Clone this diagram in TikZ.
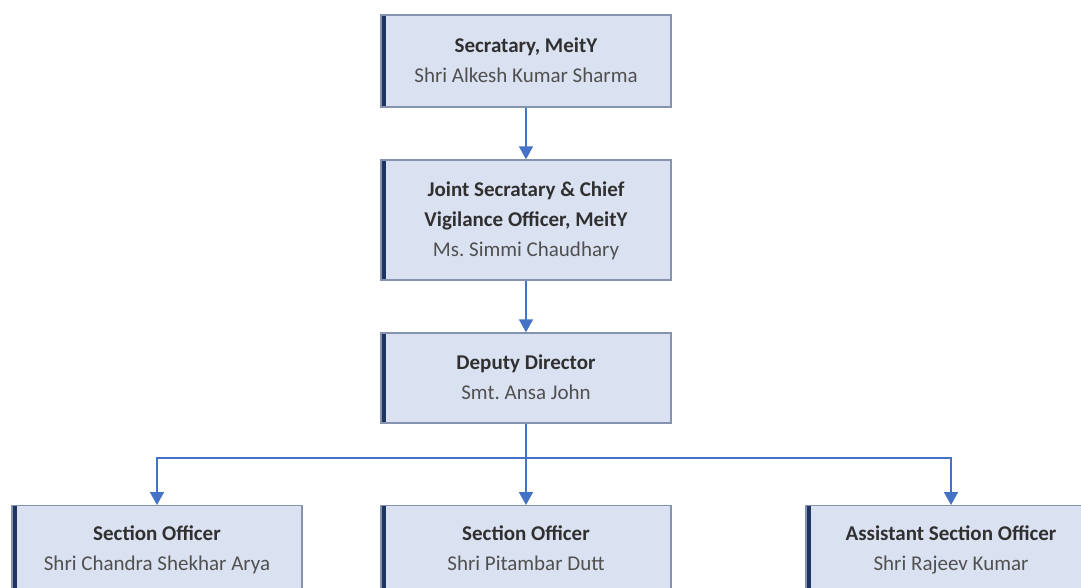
\documentclass[tikz,border=0pt]{standalone}
\usepackage{fontspec}
\setmainfont{Carlito}
\frenchspacing
\usetikzlibrary{arrows.meta,positioning}

\definecolor{boxfill}{HTML}{DAE1F1}
\definecolor{boxline}{HTML}{8593AE}
\definecolor{barcol}{HTML}{1F3462}
\definecolor{arrcol}{HTML}{4472C4}
\definecolor{titlecol}{HTML}{303030}
\definecolor{namecol}{HTML}{505050}

\newcommand{\post}[2]{{\color{titlecol}\bfseries\strut #1}\\{\color{namecol}\strut #2}}

\begin{document}
\begin{tikzpicture}[x=1pt, y=-1pt,
	office/.style = {draw=boxline, line width=1.4pt, fill=boxfill,
		minimum width=290pt, align=center, inner sep=0pt,
		font=\fontsize{21}{30}\selectfont,
		path picture={\fill[barcol] (path picture bounding box.north west)
			rectangle ([xshift=5pt]path picture bounding box.south west);}},
	link/.style = {draw=arrcol, line width=1.6pt},
	arr/.style = {link, -{Triangle[width=14pt,length=13pt]}}]
			
			\useasboundingbox (0,0) rectangle (1081,587);
			\clip (0,0) rectangle (1081,587);
			
			\node[office, minimum height=92pt] (sec) at (526,61) {\post{Secratary, MeitY}{Shri Alkesh Kumar Sharma}};
			
			\node[office, minimum height=120pt] (jscvo) at (526,220) {{\color{titlecol}\bfseries\strut Joint Secratary \& Chief}\\\post{Vigilance Officer, MeitY}{Ms. Simmi Chaudhary}};
			
			\node[office, minimum height=90pt] (dd) at (526,378) {\post{Deputy Director}{Smt. Ansa John}};
			
			% section level
			\node[office, minimum height=87pt, anchor=north] (so1) at (157,505) {\post{Section Officer}{Shri Chandra Shekhar Arya}};
			\node[office, minimum height=87pt, anchor=north] (so2) at (526,505) {\post{Section Officer}{Shri Pitambar Dutt}};
			\node[office, minimum height=87pt, anchor=north] (aso) at (951,505) {\post{Assistant Section Officer}{Shri Rajeev Kumar}};
			
			\coordinate (split) at (526,458);
			
			\draw[arr] (sec.south) -- (jscvo.north);
			\draw[arr] (jscvo.south) -- (dd.north);
			\draw[link] (dd.south) -- (split);
			\draw[arr] (split) -| (so1.north);
			\draw[arr] (split) -- (so2.north);
			\draw[arr] (split) -| (aso.north);
			
\end{tikzpicture}
\end{document}
